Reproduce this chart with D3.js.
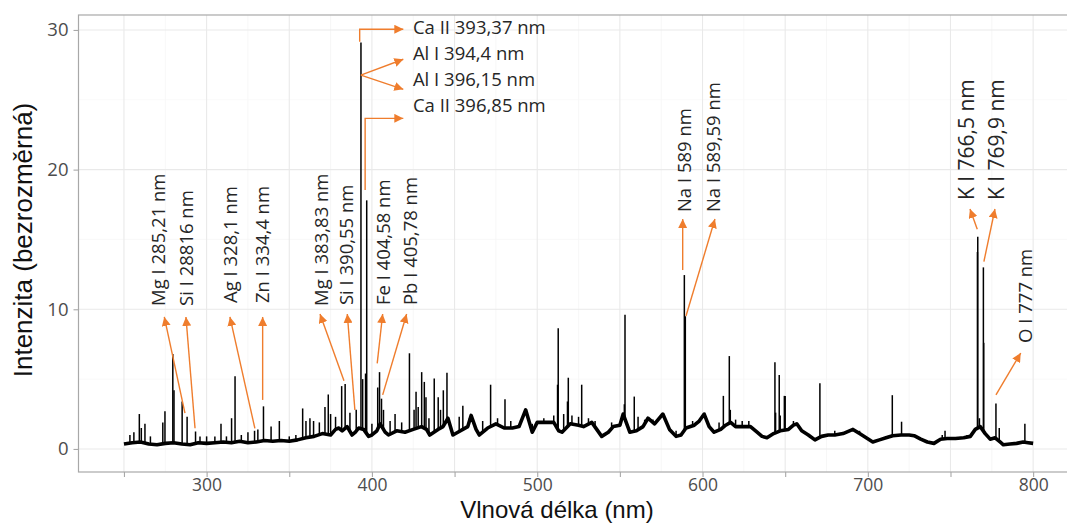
<!DOCTYPE html>
<html><head><meta charset="utf-8">
<script src="https://cdn.jsdelivr.net/npm/d3@7"></script>
<style>body{margin:0;background:#fff} svg{display:block}</style>
</head><body><svg id="c" width="1067" height="525"></svg>
<script>
// ---- spectrum continuum ----
const baseWavelength = [250,255,260,265,270,275,280,285,290,295,300,305,310,315,320,325,330,335,340,345,350,355,360,365,370,375,378,380,382,385,388,390,392,395,398,400,403,405,408,410,415,420,425,430,433,435,440,443,446,449,452,455,458,460,463,465,470,475,480,485,489,493,497,500,505,510,513,515,520,525,528,533,536,539,543,546,550,552,556,560,564,567,571,576,580,584,587,590,595,598,601,604,607,611,614,617,620,625,629,633,636,639,643,647,652,655,657,660,664,668,672,676,680,685,691,695,699,703,707,711,715,720,725,728,732,736,740,744,748,753,758,762,765,768,771,774,777,780,782,786,790,794,797,800];
const baseIntensity = [0.35,0.45,0.5,0.35,0.3,0.4,0.45,0.35,0.3,0.45,0.4,0.45,0.5,0.45,0.55,0.45,0.5,0.6,0.55,0.6,0.55,0.65,0.8,0.9,1.1,1.0,1.4,1.5,1.3,1.6,1.0,1.2,1.5,1.4,0.9,1.0,1.3,1.8,1.2,1.0,1.3,1.2,1.4,1.6,1.4,1.0,1.4,1.6,2.2,1.0,1.2,1.4,1.6,2.4,1.4,1.0,1.5,1.8,1.5,1.5,1.6,2.8,1.2,1.9,1.9,1.9,1.3,1.2,1.8,1.7,1.6,1.9,1.4,0.9,1.2,1.6,1.7,2.5,1.2,1.3,1.6,2.2,1.8,2.5,1.4,0.9,1.0,1.5,1.7,2.0,2.5,1.6,1.2,1.4,1.7,1.9,1.6,1.6,1.6,1.2,0.9,0.8,1.1,1.3,1.4,1.7,1.8,1.3,1.0,0.65,0.9,1.0,1.0,1.1,1.4,1.1,0.8,0.5,0.65,0.8,0.95,1.0,1.0,0.95,0.7,0.5,0.4,0.7,0.75,0.75,0.8,0.9,1.4,1.6,1.1,0.7,0.8,0.5,0.3,0.35,0.4,0.5,0.45,0.4];

// ---- emission lines (wavelength nm, intensity) ----
const peakWavelength = [253.6,256,259.3,260.5,262.7,266,273.5,274.8,279.55,280.27,285.2,288.2,293.3,296,300,305,308.7,312,315.1,317.2,321,325,329,331,334.4,339,344,350,354,358.1,360.1,362.5,364.7,368.2,371.6,373.6,375,378,381.7,383.8,386.7,390.5,393.37,394.4,396.15,396.85,400,403.5,404.6,405.8,407,411,414,418,422.7,425.5,426.7,428,430.1,431.7,432.7,434.5,437.7,440.1,441.5,443.2,445.4,452.8,455,459,467,471.8,476,480.5,484,490,497,504,510,512.3,512.7,516,518.3,518.8,521,525,526.9,531,535,545,552.7,553.1,558.7,561,565,570,575,584,589.0,589.59,594,610,612.6,616.2,616.8,620,624,628,643.8,644.2,646.4,647,649.5,650,655,671,680,695,714.8,720.4,745,746.7,760,766.3,766.5,767.5,769.9,770.1,777.5,779.5,795];
const peakIntensity = [1.0,1.2,2.5,1.5,1.8,0.9,1.9,2.7,6.8,4.2,3.4,2.3,1.25,0.9,0.9,0.9,1.8,0.9,2.2,5.2,1.0,1.2,1.3,1.4,3.05,1.6,2.0,0.9,1.0,2.9,2.0,2.2,2.0,1.9,3.0,3.9,2.5,2.3,4.5,4.65,2.6,2.8,29.1,5.0,5.4,17.8,1.8,4.4,5.5,3.6,2.8,2.0,2.5,1.9,6.85,2.8,4.1,3.0,5.5,4.8,3.7,2.2,5.05,3.7,2.8,4.2,5.45,2.3,3.1,2.2,2.0,4.6,2.2,3.55,2.0,2.1,1.8,2.2,2.4,4.6,8.65,2.5,3.4,5.1,2.4,2.3,4.6,2.2,2.0,1.9,3.2,9.6,3.75,2.3,2.1,2.1,2.4,1.3,12.45,9.5,2.0,1.9,3.8,6.65,2.8,2.1,2.0,2.0,6.2,2.6,5.3,2.4,3.8,3.8,2.0,4.7,1.3,1.3,3.85,1.95,1.0,1.3,1.0,14.1,15.2,2.2,13.0,7.6,3.25,1.5,1.8];

// ---- axes ----
const xTickValues = [250,300,350,400,450,500,550,600,650,700,750,800];
const xTickLabels = ["","300","","400","","500","","600","","700","","800"];
const xMinorGrid = [275,325,375,425,475,525,575,625,675,725,775];
const yTickValues = [0,10,20,30];
const yMinorGrid = [5,15,25];
const xTitle = "Vlnová délka (nm)";
const yTitle = "Intenzita (bezrozměrná)";

// ---- annotations: vertical labels ----
const vLabelText = ["Mg I 285,21 nm","Si I 28816 nm","Ag I 328,1 nm","Zn I 334,4 nm","Mg I 383,83 nm","Si I 390,55 nm","Fe I 404,58 nm","Pb I 405,78 nm","Na I 589 nm","Na I 589,59 nm","K I 766,5 nm","K I 769,9 nm","O I 777 nm"];
const vLabelWl = [271.2,288.1,314.7,334.1,369.8,384.9,407.3,423.6,589.4,606.6,759.8,777.9,795.1];
const vLabelInt = [10.24,10.24,10.45,10.45,10.24,10.3,10.3,10.3,16.96,16.96,17.82,17.82,7.59];
const vLabelBig = [0,0,0,0,0,0,0,0,0,0,1,1,0];
const arrowTailWl = [286.9,293.0,329.2,333.9,383.1,389.7,403.2,406.5,588.0,590.0,766.2,770.2,777.5];
const arrowTailInt = [2.56,1.48,1.48,3.51,4.89,2.79,6.13,3.87,12.81,9.52,15.73,13.41,3.87];
const arrowTipWl = [274.4,287.5,314.1,333.9,368.6,385.1,406.5,421.0,588.0,607.5,761.8,776.9,792.5];
const arrowTipInt = [9.45,9.45,9.45,9.45,9.66,9.66,9.66,9.66,16.46,16.46,17.18,17.18,6.87];

// ---- annotations: horizontal labels at top ----
const hLabelText = ["Ca II 393,37 nm","Al I 394,4 nm","Al I 396,15 nm","Ca II 396,85 nm"];
const hLabelWl = [424.8,424.8,424.8,424.8];
const hLabelInt = [30.18,28.33,26.46,24.57];
// elbow / fan arrows: lists of [wl, intensity] vertices
const hArrowPaths = [
  [[392.6,29.15],[392.6,30.05],[419,30.05]],
  [[393.3,26.77],[419,27.9]],
  [[393.3,26.77],[419,25.75]],
  [[395.9,18.54],[395.9,23.67],[419,23.67]]
];

const svg = d3.select("#c");
const x = d3.scaleLinear().domain([222.5, 827.5]).range([78.5, 1078.6]);
const y = d3.scaleLinear().domain([-1.65, 31.07]).range([472, 15]);
const ORANGE = "#ef7d2d";

const defs = svg.append("defs");
defs.append("marker").attr("id","ah").attr("viewBox","0 0 10 10")
  .attr("refX",10).attr("refY",5).attr("markerWidth",9).attr("markerHeight",9)
  .attr("markerUnits","userSpaceOnUse").attr("orient","auto")
  .append("path").attr("d","M0,0 L10,5 L0,10 Z").attr("fill",ORANGE);

// grid
const g = svg.append("g");
g.selectAll(".vmin").data(xMinorGrid).join("line")
  .attr("x1",d=>x(d)).attr("x2",d=>x(d)).attr("y1",15).attr("y2",472)
  .attr("stroke","#f4f4f4").attr("stroke-width",0.7);
g.selectAll(".hmin").data(yMinorGrid).join("line")
  .attr("x1",78.5).attr("x2",1080).attr("y1",d=>y(d)).attr("y2",d=>y(d))
  .attr("stroke","#f6f6f6").attr("stroke-width",0.7);
g.selectAll(".vmaj").data(xTickValues).join("line")
  .attr("x1",d=>x(d)).attr("x2",d=>x(d)).attr("y1",15).attr("y2",472)
  .attr("stroke","#e9e9e9").attr("stroke-width",1.1);
g.selectAll(".hmaj").data(yTickValues).join("line")
  .attr("x1",78.5).attr("x2",1080).attr("y1",d=>y(d)).attr("y2",d=>y(d))
  .attr("stroke","#e9e9e9").attr("stroke-width",1.1);

// spectrum baseline (thick to mimic the noise band)
const baseData = baseWavelength.map((w,i)=>[w, baseIntensity[i]]);
svg.append("path").datum(baseData)
  .attr("d", d3.line().x(d=>x(d[0])).y(d=>y(d[1])))
  .attr("fill","none").attr("stroke","#000").attr("stroke-width",3.6).attr("stroke-linejoin","round");

function baseAt(w){
  const i = d3.bisectLeft(baseWavelength, w);
  if (i<=0) return baseIntensity[0];
  if (i>=baseWavelength.length) return baseIntensity[baseIntensity.length-1];
  const w0=baseWavelength[i-1], w1=baseWavelength[i];
  const t=(w-w0)/(w1-w0);
  return baseIntensity[i-1]*(1-t)+baseIntensity[i]*t;
}
svg.append("g").selectAll("line").data(peakWavelength.map((w,i)=>[w,peakIntensity[i]])).join("line")
  .attr("x1",d=>x(d[0])).attr("x2",d=>x(d[0]))
  .attr("y1",d=>y(baseAt(d[0]))).attr("y2",d=>y(d[1]))
  .attr("stroke","#000").attr("stroke-width",1.5);

// panel border
svg.append("rect").attr("x",78.5).attr("y",15).attr("width",1000).attr("height",457)
  .attr("fill","none").attr("stroke","#a8a8a8").attr("stroke-width",1.2);

// axes
const ax = svg.append("g").attr("transform","translate(0,472)")
  .call(d3.axisBottom(x).tickValues(xTickValues).tickFormat((d,i)=>xTickLabels[i]).tickSize(5).tickPadding(2));
ax.select(".domain").remove();
ax.selectAll("line").attr("stroke","#a8a8a8").attr("stroke-width",1.1);
ax.selectAll("text").attr("font-family","Open Sans").attr("font-size",17.5).attr("fill","#4d4d4d");

const ay = svg.append("g").attr("transform","translate(78.5,0)")
  .call(d3.axisLeft(y).tickValues(yTickValues).tickSize(5).tickPadding(5));
ay.select(".domain").remove();
ay.selectAll("line").attr("stroke","#a8a8a8").attr("stroke-width",1.1);
ay.selectAll("text").attr("font-family","Open Sans").attr("font-size",18.5).attr("fill","#4d4d4d");

svg.append("text").attr("x",557).attr("y",518).attr("text-anchor","middle")
  .attr("font-family","Liberation Sans, Arial").attr("font-size",24).attr("fill","#111").text(xTitle);
svg.append("text").attr("transform","translate(32,240) rotate(-90)").attr("text-anchor","middle")
  .attr("font-family","Liberation Sans, Arial").attr("font-size",26).attr("fill","#111").text(yTitle);

// annotations
const an = svg.append("g");
an.selectAll(".va").data(vLabelText).join("line")
  .attr("x1",(d,i)=>x(arrowTailWl[i])).attr("y1",(d,i)=>y(arrowTailInt[i]))
  .attr("x2",(d,i)=>x(arrowTipWl[i])).attr("y2",(d,i)=>y(arrowTipInt[i]))
  .attr("stroke",ORANGE).attr("stroke-width",1.4).attr("marker-end","url(#ah)");
an.selectAll(".vt").data(vLabelText).join("text")
  .attr("transform",(d,i)=>`translate(${x(vLabelWl[i])},${y(vLabelInt[i])}) rotate(-90)`)
  .attr("dy","0.35em").attr("text-anchor","start")
  .attr("font-family","Open Sans").attr("font-size",(d,i)=>vLabelBig[i]?21:18.5)
  .attr("fill","#262626").text(d=>d);

an.selectAll(".hp").data(hArrowPaths).join("path")
  .attr("d",d=>d3.line().x(p=>x(p[0])).y(p=>y(p[1]))(d))
  .attr("fill","none").attr("stroke",ORANGE).attr("stroke-width",1.4).attr("marker-end","url(#ah)");
an.selectAll(".ht").data(hLabelText).join("text")
  .attr("x",(d,i)=>x(hLabelWl[i])).attr("y",(d,i)=>y(hLabelInt[i]))
  .attr("dy","0.35em").attr("text-anchor","start")
  .attr("font-family","Open Sans").attr("font-size",18.5)
  .attr("fill","#262626").text(d=>d);
</script></body></html>
